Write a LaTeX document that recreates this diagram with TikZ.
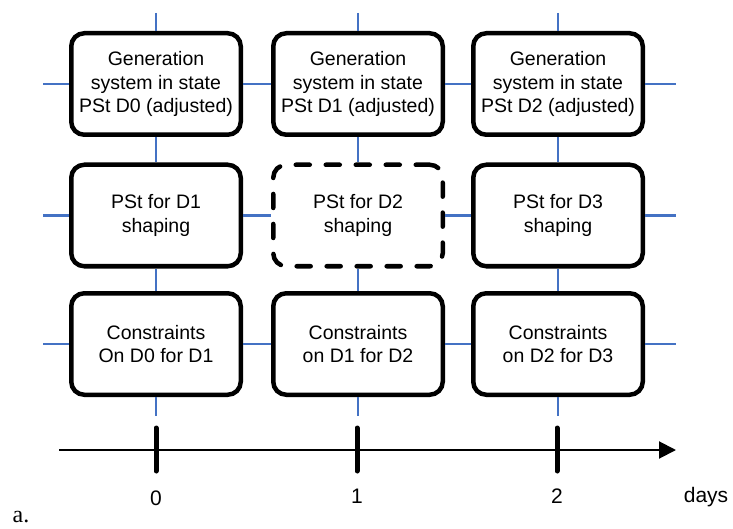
\documentclass[tikz,border=0pt]{standalone}
\usepackage{fontspec}
\setmainfont{Liberation Sans}
\newfontfamily\serifa{Liberation Serif}
\usetikzlibrary{arrows.meta}
\definecolor{stubblue}{HTML}{4472C4}
\begin{document}
\begin{tikzpicture}[x=1pt,y=-1pt,
  box/.style={draw=black, line width=4.5pt, rounded corners=13pt, minimum width=169.5pt, minimum height=101.5pt,
    align=center, inner sep=0pt, font=\fontsize{19.5}{23.5}\selectfont},
  dbox/.style={box, dash pattern=on 14pt off 16pt, line cap=round},
  stub/.style={draw=stubblue, line width=2.8pt},
  tick/.style={draw=black, line width=5pt, line cap=round},
  axislabel/.style={font=\fontsize{21}{24}\selectfont, inner sep=0pt}]
\useasboundingbox (0,0) rectangle (733,529);

% boxes
\node[box] (g0) at (156,84) {Generation\\system in state\\PSt D0 (adjusted)};
\node[box] (g1) at (358,84) {Generation\\system in state\\PSt D1 (adjusted)};
\node[box] (g2) at (558,84) {Generation\\system in state\\PSt D2 (adjusted)};
\node[box] (s0) at (156,215.5) {PSt for D1\\shaping};
\node[dbox] (s1) at (358,215.5) {PSt for D2\\shaping};
\node[box] (s2) at (558,215.5) {PSt for D3\\shaping};
\node[box] (c0) at (156,344) {Constraints\\On D0 for D1};
\node[box] (c1) at (358,344) {Constraints\\on D1 for D2};
\node[box] (c2) at (558,344) {Constraints\\on D2 for D3};

% free ends
\coordinate (t0) at (156,13); \coordinate (t1) at (358,13); \coordinate (t2) at (558,13);
\coordinate (b0) at (156,416); \coordinate (b1) at (358,416); \coordinate (b2) at (558,416);
\coordinate (l0) at (43,84); \coordinate (l1) at (43,215.5); \coordinate (l2) at (43,344);
\coordinate (r0) at (676,84); \coordinate (r1) at (676,215.5); \coordinate (r2) at (676,344);

% blue connectors
\foreach \c in {0,1,2} {
  \draw[stub] (t\c) -- (g\c.north);
  \draw[stub] (g\c.south) -- (s\c.north);
  \draw[stub] (s\c.south) -- (c\c.north);
  \draw[stub] (c\c.south) -- (b\c);
}
\draw[stub] (l0) -- (g0.west);
\draw[stub] (g0.east) -- (g1.west);
\draw[stub] (g1.east) -- (g2.west);
\draw[stub] (g2.east) -- (r0);
\draw[stub] (l1) -- (s0.west);
\draw[stub] (s0.east) -- (s1.west);
\draw[stub] (s1.east) -- (s2.west);
\draw[stub] (s2.east) -- (r1);
\draw[stub] (l2) -- (c0.west);
\draw[stub] (c0.east) -- (c1.west);
\draw[stub] (c1.east) -- (c2.west);
\draw[stub] (c2.east) -- (r2);

% time axis
\coordinate (ax0) at (59,450);
\coordinate (ax1) at (676,450);
\draw[line width=2pt, -{Triangle[length=17pt,width=17pt]}] (ax0) -- (ax1);
\coordinate (k0a) at (156,428); \coordinate (k0b) at (156,471);
\coordinate (k1a) at (357,428); \coordinate (k1b) at (357,471);
\coordinate (k2a) at (557,428); \coordinate (k2b) at (557,471);
\draw[tick] (k0a) -- (k0b);
\draw[tick] (k1a) -- (k1b);
\draw[tick] (k2a) -- (k2b);

\node[axislabel] (n0) at (156,498) {0};
\node[axislabel] (n1) at (357,496) {1};
\node[axislabel] (n2) at (557,496) {2};
\node[axislabel] (days) at (706,497) {days};
\node[inner sep=0pt, font=\serifa\fontsize{24}{26}\selectfont] (lbla) at (21,517) {a.};
\end{tikzpicture}
\end{document}
